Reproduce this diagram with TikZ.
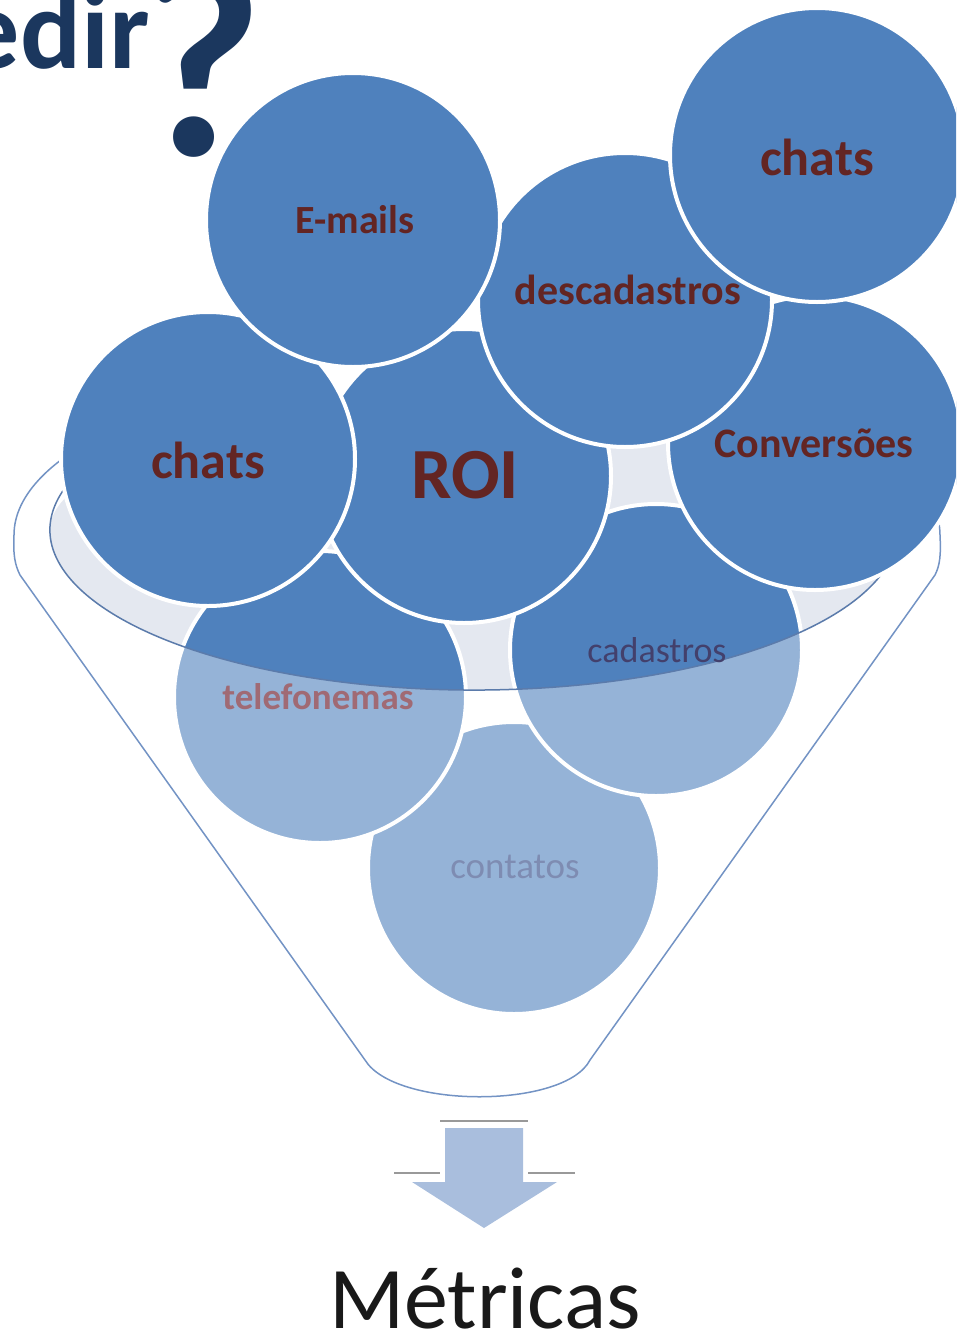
\documentclass[tikz,border=0pt]{standalone}
\usepackage{fontspec}
\setmainfont{Carlito}
\definecolor{cDark}{HTML}{4F81BD}
\definecolor{cLight}{HTML}{95B3D7}
\definecolor{cRim}{HTML}{E4E8F0}
\definecolor{cRed}{HTML}{632523}
\definecolor{cNavy}{HTML}{1B375E}
\definecolor{cLine}{HTML}{7393C4}
\definecolor{cInner}{HTML}{5B7BAB}
\definecolor{cArrow}{HTML}{A9BEDD}
\definecolor{cTel}{HTML}{A06A74}
\definecolor{cCad}{HTML}{43406C}
\definecolor{cCon}{HTML}{7E8CB2}
\begin{document}
\begin{tikzpicture}[x=1pt,y=-1pt,
  topc/.style={circle, fill=cDark, draw=white, line width=4pt, minimum size=294pt, inner sep=0pt},
  lowc/.style={circle, fill=cLight, minimum size=292pt, inner sep=0pt},
  lbl/.style={text=cRed, inner sep=0pt, font=\bfseries\fontsize{#1}{#1}\selectfont},
  lowlbl/.style={inner sep=0pt, font=\fontsize{#1}{#1}\selectfont},
  lowlblb/.style={inner sep=0pt, font=\bfseries\fontsize{#1}{#1}\selectfont},
  ring/.style={draw=white, line width=4pt}]
\useasboundingbox (0,0) rectangle (956,1336);
\clip (0,0) rectangle (956,1336);

% title fragment
\node[anchor=base east, inner sep=0pt, text=cNavy, font=\bfseries\fontsize{114}{114}\selectfont] (edir) at (150,68) {edir};
\node[anchor=base west, inner sep=0pt, text=cNavy, font=\bfseries\fontsize{275}{275}\selectfont] (qm) at (136,155) {?};

% funnel body (outline; its top is hidden behind the circles)
\draw[cLine, line width=1.5pt] (477,535) ++(220:463 and 171) arc[start angle=220, end angle=180, x radius=463, y radius=171]
  .. controls (13,555) and (15,565) .. (20,575) -- (365,1060)
  .. controls (395,1109) and (565,1109) .. (590,1060) -- (935,575)
  .. controls (940,565) and (941,555) .. (940,535)
  arc[start angle=360, end angle=320, x radius=463, y radius=171];
% inner rim
\path[fill=cRim] (50,530) arc[start angle=180, end angle=360, x radius=424, y radius=120]
  arc[start angle=0, end angle=180, x radius=424, y radius=160] -- cycle;

% lower circles
\node[lowc] (con) at (514,868) {};
\draw[ring] (con.center) circle (146);
\node[lowc] (tel) at (320,697) {};
\begin{scope}
  \clip (474,530) ellipse [x radius=424, y radius=160];
  \fill[cDark] (tel.center) circle (146);
\end{scope}
\draw[ring] (tel.center) circle (146);
\node[lowc] (cad) at (656,650) {};
\begin{scope}
  \clip (474,530) ellipse [x radius=424, y radius=160];
  \fill[cDark] (cad.center) circle (146);
\end{scope}
\draw[ring] (cad.center) circle (146);
\draw[cInner, line width=1.5pt] (474,530) ++(200:424 and 160) arc[start angle=200, end angle=-20, x radius=424, y radius=160];

\node[lowlblb=37, text=cTel] (ttel) at (318,697) {telefonemas};
\node[lowlbl=36, text=cCad] (tcad) at (657,650) {cadastros};
\node[lowlbl=37, text=cCon] (tcon) at (515,867) {contatos};

% top circles
\node[topc] (roi) at (464,476) {};
\node[lbl=72] (troi) at (465,475) {ROI};
\node[topc] (conv) at (815,443) {};
\node[lbl=42] (tconv) at (814,443) {Conversões};
\node[topc] (desc) at (625,300) {};
\node[lbl=42] (tdesc) at (628,290) {descadastros};
\node[topc] (chr) at (817,155) {};
\node[lbl=52] (tchr) at (817,157) {chats};
\node[topc] (chl) at (208,459) {};
\node[lbl=52] (tchl) at (208,460) {chats};
\node[topc] (mail) at (353,220) {};
\node[lbl=40] (tmail) at (355,220) {E-mails};

% arrow
\draw[gray!80, line width=1.5pt] (394,1173) -- (440,1173) (440,1121) -- (528,1121) (528,1173) -- (575,1173);
\fill[cArrow] (445,1128) -- (523,1128) -- (523,1182) -- (557,1182) -- (484,1228) -- (412,1182) -- (445,1182) -- cycle;

\node[anchor=base, inner sep=0pt, text=black!90, font=\fontsize{88}{88}\selectfont] (met) at (485,1328) {Métricas};
\end{tikzpicture}
\end{document}
